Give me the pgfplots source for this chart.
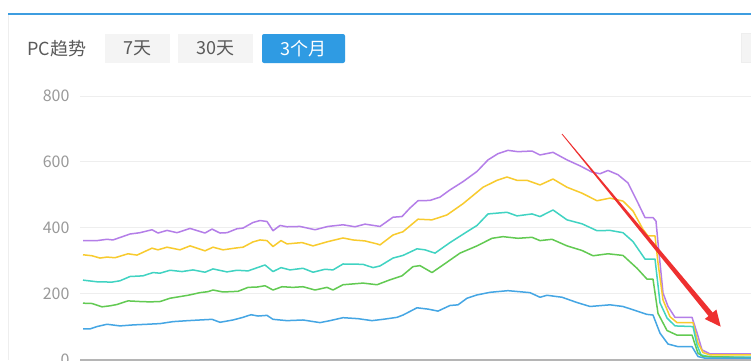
\documentclass[border=0pt]{standalone}
\usepackage{pgfplots}
\pgfplotsset{compat=1.18}
\usepackage{fontspec}
\setmainfont{Noto Sans CJK SC}
\definecolor{topblue}{HTML}{3D9DE0}
\definecolor{btnblue}{HTML}{2F9BE3}
\definecolor{btngray}{HTML}{F4F4F4}
\definecolor{txtgray}{HTML}{5A5A5A}
\definecolor{tickgray}{HTML}{999999}
\definecolor{gridgray}{HTML}{EEEEEE}
\definecolor{axisgray}{HTML}{B5B5B5}
\definecolor{cpurple}{HTML}{B47EE8}
\definecolor{cyellow}{HTML}{F8CB2E}
\definecolor{cteal}{HTML}{40D3C2}
\definecolor{cgreen}{HTML}{62CA52}
\definecolor{cblue}{HTML}{45A6E4}
\definecolor{arrowred}{HTML}{EE3030}
\begin{document}
\begin{tikzpicture}[x=1pt,y=1pt]
\useasboundingbox (0,0) rectangle (751,360);
\clip (0,0) rectangle (751,360);
\fill[white] (0,0) rectangle (751,360);
% frame
\fill[topblue] (8,345.5) rectangle (751,347.5);
\draw[color=gridgray,line width=1pt] (8,0) -- (8,345.5);
% header
\node[anchor=west,text=txtgray,font=\fontsize{18}{20}\selectfont,inner sep=0pt] at (27,311.5) {PC趋势};
\fill[btngray] (105,297) rectangle (170,326);
\node[text=txtgray,font=\fontsize{18}{20}\selectfont,inner sep=0pt] at (137.5,311.5) {7天};
\fill[btngray] (178,297) rectangle (253,326);
\node[text=txtgray,font=\fontsize{18}{20}\selectfont,inner sep=0pt] at (215.5,311.5) {30天};
\fill[btnblue,rounded corners=2pt] (262,297) rectangle (345,326);
\node[text=white,font=\fontsize{18}{20}\selectfont,inner sep=0pt] at (303.5,311.5) {3个月};
\filldraw[fill=btngray,draw=gridgray] (741.5,297.5) rectangle (760,327);
\begin{axis}[
  at={(80pt,0.5pt)}, anchor=south west,
  scale only axis, width=700pt, height=263.5pt,
  xmin=80, xmax=780, ymin=0, ymax=800,
  axis line style={draw=none},
  xtick=\empty,
  ytick={200,400,600,800},
  extra y ticks={0},
  extra y tick style={grid style={color=axisgray,line width=2pt}},
  ymajorgrids,
  grid style={color=gridgray,line width=1pt},
  major tick length=0pt,
  tick label style={font=\fontsize{16}{18}\selectfont,text=tickgray},
  yticklabel style={xshift=-7pt},
  /pgf/number format/assume math mode=true,
  every axis plot/.append style={line width=1.5pt,line join=round,no markers},
]
\addplot[cpurple] coordinates {
(83,361)(97,361)(107,365)(113,363)(130,381)(140,385)(152,394)(158,384)(167,392)(177,385)(190,398)(205,384)(212,396)(220,384)(227,385)(237,397)(243,399)(253,416)(260,422)(267,419)(273,391)(280,407)(287,403)(300,404)(315,394)(328,404)(343,409)(355,403)(365,411)(380,404)(393,432)(402,434)(410,460)(418,482)(430,483)(440,493)(450,515)(463,540)(477,571)(488,606)(498,625)(508,635)(518,631)(532,633)(540,621)(553,629)(567,606)(580,588)(592,569)(600,564)(608,574)(618,561)(628,536)(638,475)(645,431)(653,431)(656,420)(658,354)(663,202)(668,161)(675,128)(692,128)(697,81)(702,29)(710,17)(760,17)};
\addplot[cyellow] coordinates {
(83,318)(92,315)(100,308)(107,311)(115,309)(128,321)(137,317)(152,338)(158,333)(167,341)(180,333)(190,345)(205,330)(213,341)(223,333)(237,339)(243,341)(253,357)(260,363)(267,361)(273,343)(281,361)(287,351)(302,355)(313,345)(328,358)(343,369)(353,363)(365,360)(377,351)(380,348)(393,378)(403,388)(418,426)(432,424)(447,439)(463,473)(483,523)(497,544)(507,554)(517,544)(527,544)(540,530)(553,548)(567,523)(582,505)(597,482)(610,490)(623,481)(633,451)(643,395)(648,375)(655,375)(658,293)(663,181)(670,130)(677,112)(693,112)(698,50)(703,21)(710,14)(760,14)};
\addplot[cteal] coordinates {
(83,241)(97,236)(112,235)(120,239)(130,252)(143,254)(153,264)(160,262)(170,271)(182,267)(193,272)(205,265)(213,275)(227,266)(237,271)(248,269)(265,287)(273,267)(281,279)(290,272)(303,277)(313,265)(325,274)(333,272)(343,290)(363,289)(373,279)(380,284)(393,308)(403,316)(417,336)(425,333)(435,323)(450,355)(467,388)(477,407)(488,442)(507,447)(517,436)(532,442)(540,434)(553,454)(567,424)(582,412)(597,391)(610,392)(623,385)(633,358)(645,305)(655,305)(660,172)(667,126)(675,102)(693,100)(697,44)(701,14)(710,8)(760,7)};
\addplot[cgreen] coordinates {
(83,171)(92,170)(102,160)(110,163)(117,167)(128,178)(140,176)(150,175)(160,176)(170,186)(180,191)(188,195)(200,203)(208,206)(213,211)(223,205)(238,207)(248,219)(257,220)(265,224)(273,211)(282,221)(293,219)(303,221)(315,211)(327,219)(333,211)(343,227)(363,232)(377,227)(390,242)(402,254)(413,282)(420,285)(432,264)(443,287)(460,323)(477,345)(492,368)(503,373)(518,368)(532,371)(540,361)(552,365)(567,345)(582,331)(593,315)(608,321)(623,316)(637,277)(647,244)(653,244)(658,140)(667,88)(677,74)(692,74)(698,19)(703,9)(760,5)};
\addplot[cblue] coordinates {
(83,93)(90,93)(97,100)(107,107)(120,102)(133,105)(147,107)(160,109)(173,115)(188,118)(200,120)(212,122)(220,113)(233,120)(243,128)(251,136)(258,132)(267,134)(273,122)(287,118)(303,120)(320,112)(330,118)(343,127)(358,124)(372,118)(383,122)(397,128)(403,135)(417,157)(428,153)(438,147)(450,164)(458,166)(467,186)(477,196)(490,204)(508,209)(530,203)(540,189)(547,195)(562,189)(577,173)(590,161)(610,166)(623,161)(637,147)(647,137)(653,135)(660,80)(668,47)(678,39)(692,39)(698,9)(705,4)(760,4)};
\end{axis}
% red arrow annotation
\fill[arrowred] (561.7,225.75) -- (562.3,226.25) -- (712.7,47.4) -- (716.4,50.5) -- (720.7,33.3) -- (704.8,41.0) -- (708.5,44.0) -- cycle;
\end{tikzpicture}
\end{document}
